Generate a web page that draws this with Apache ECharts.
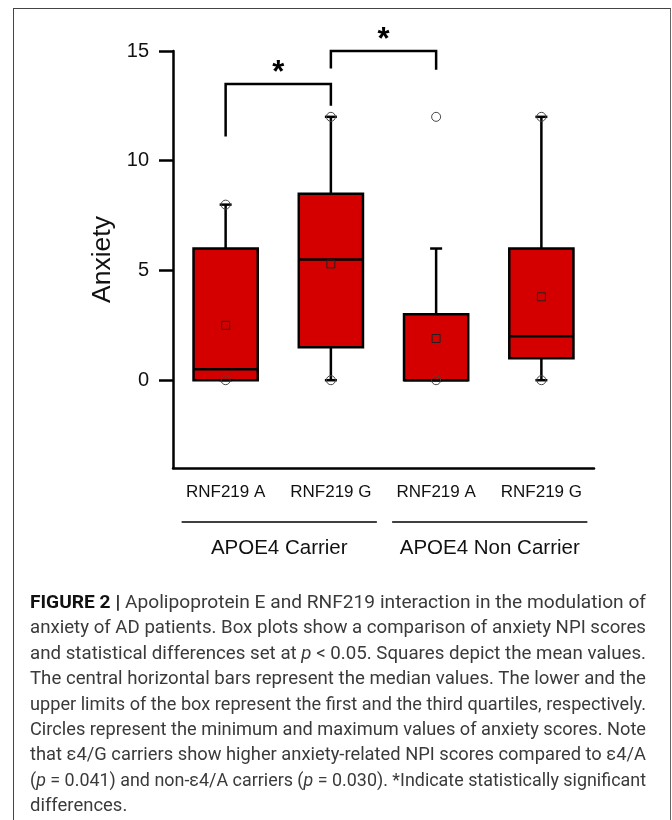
<!DOCTYPE html>
<html>
<head>
<meta charset="utf-8">
<script src="https://cdn.jsdelivr.net/npm/echarts@6/dist/echarts.min.js"></script>
<style>
  html, body { margin: 0; padding: 0; background: #fff; }
  #wrap { position: relative; width: 672px; height: 820px; overflow: hidden; background: #fff; }
  #chart { position: absolute; left: 0; top: 0; width: 672px; height: 820px; }
  #frame { position: absolute; left: 13px; top: 8px; width: 656px; height: 900px;
           border-left: 1px solid #444; border-top: 1px solid #444; border-right: 1px solid #666; }
  #caption { position: absolute; left: 30px; top: 590px; width: 616px;
             font-family: 'Roboto', 'Liberation Sans', sans-serif;
             font-size: 18.5px; line-height: 25.4px; color: #3a3a3a; }
  #caption .ln { display: block; height: 25.4px; white-space: nowrap; }
  #caption .ln span.t { display: inline-block; white-space: nowrap; transform-origin: 0 50%; }
  #caption b { color: #111; }
</style>
</head>
<body>
<div id="wrap">
  <div id="chart"></div>
  <div id="frame"></div>
  <div id="caption">
    <div class="ln"><span class="t"><b>FIGURE 2 |</b> Apolipoprotein E and RNF219 interaction in the modulation of</span></div>
    <div class="ln"><span class="t">anxiety of AD patients. Box plots show a comparison of anxiety NPI scores</span></div>
    <div class="ln"><span class="t">and statistical differences set at <i>p</i> &lt; 0.05. Squares depict the mean values.</span></div>
    <div class="ln"><span class="t">The central horizontal bars represent the median values. The lower and the</span></div>
    <div class="ln"><span class="t">upper limits of the box represent the first and the third quartiles, respectively.</span></div>
    <div class="ln"><span class="t">Circles represent the minimum and maximum values of anxiety scores. Note</span></div>
    <div class="ln"><span class="t">that ε4/G carriers show higher anxiety-related NPI scores compared to ε4/A</span></div>
    <div class="ln"><span class="t">(<i>p</i> = 0.041) and non-ε4/A carriers (<i>p</i> = 0.030). *Indicate statistically significant</span></div>
    <div class="ln last"><span class="t">differences.</span></div>
  </div>
</div>
<script>
// ---------- data ----------
const categories  = ['RNF219 A', 'RNF219 G', 'RNF219 A', 'RNF219 G'];
const whiskerLow  = [0, 0, 0, 0];
const q1          = [0, 1.5, 0, 1];
const median      = [0.5, 5.5, 0, 2];
const q3          = [6, 8.5, 3, 6];
const whiskerHigh = [8, 12, 6, 12];
const means       = [2.5, 5.3, 1.9, 3.8];
const minValues   = [0, 0, 0, 0];
const maxValues   = [8, 12, 12, 12];
const yTicks      = [0, 5, 10, 15];
const groupNames  = ['APOE4 Carrier', 'APOE4 Non Carrier'];
const groupFirst  = [0, 2];
const groupLast   = [1, 3];
// significance brackets: from category, to category, top value, left leg end, right leg end, star value
const bracketFrom  = [0, 1];
const bracketTo    = [1, 2];
const bracketTop   = [13.5, 15];
const bracketLeft  = [11.1, 14.2];
const bracketRight = [12.5, 14.15];
const starValue    = [14.3, 15.8];

// ---------- style / layout ----------
const FONT = "'Liberation Sans', Arial, sans-serif";
const BOX_RATIO = 0.61;
const LW = 2.5;
const CAP_HALF = 6;
const CIRCLE_R = 4.5;
const MEAN_HALF = 4;
const STAR_SIZE = 31;

const chart = echarts.init(document.getElementById('chart'), null, { renderer: 'canvas' });

const boxData = categories.map((c, i) => [i, whiskerLow[i], q1[i], median[i], q3[i], whiskerHigh[i], means[i], minValues[i], maxValues[i]]);
const bracketData = bracketFrom.map((f, i) => [f, bracketTo[i], bracketTop[i], bracketLeft[i], bracketRight[i], starValue[i]]);

function renderBox(params, api) {
  const i = api.value(0);
  const x = api.coord([i, 0])[0];
  const bw = api.size([1, 0])[0] * BOX_RATIO;
  const y = v => api.coord([i, v])[1];
  const wl = y(api.value(1)), yq1 = y(api.value(2)), ymed = y(api.value(3)),
        yq3 = y(api.value(4)), wh = y(api.value(5)), ymean = y(api.value(6)),
        ymin = y(api.value(7)), ymax = y(api.value(8));
  const black = { stroke: '#000', lineWidth: LW, fill: null };
  const children = [
    { type: 'line', shape: { x1: x, y1: yq3, x2: x, y2: wh }, style: black },
    { type: 'line', shape: { x1: x, y1: yq1, x2: x, y2: wl }, style: black },
    { type: 'rect', shape: { x: x - bw / 2, y: yq3, width: bw, height: yq1 - yq3 },
      style: { fill: '#D40000', stroke: '#000', lineWidth: LW } },
    { type: 'line', shape: { x1: x - bw / 2, y1: ymed, x2: x + bw / 2, y2: ymed }, style: black },
    { type: 'line', shape: { x1: x - CAP_HALF, y1: wh, x2: x + CAP_HALF, y2: wh }, style: black },
    { type: 'line', shape: { x1: x - CAP_HALF, y1: wl, x2: x + CAP_HALF, y2: wl }, style: black },
    { type: 'circle', shape: { cx: x, cy: ymin, r: CIRCLE_R }, style: { fill: null, stroke: '#444', lineWidth: 1 } },
    { type: 'circle', shape: { cx: x, cy: ymax, r: CIRCLE_R }, style: { fill: null, stroke: '#444', lineWidth: 1 } },
    { type: 'rect', shape: { x: x - MEAN_HALF, y: ymean - MEAN_HALF, width: 2 * MEAN_HALF, height: 2 * MEAN_HALF },
      style: { fill: null, stroke: '#222', lineWidth: 1 } }
  ];
  return { type: 'group', children };
}

function renderBracket(params, api) {
  const a = api.value(0), b = api.value(1);
  const xa = api.coord([a, 0])[0], xb = api.coord([b, 0])[0];
  const yt = api.coord([a, api.value(2)])[1];
  const yl = api.coord([a, api.value(3)])[1];
  const yr = api.coord([b, api.value(4)])[1];
  const ys = api.coord([a, api.value(5)])[1];
  return {
    type: 'group',
    children: [
      { type: 'polyline', shape: { points: [[xa, yl], [xa, yt], [xb, yt], [xb, yr]] },
        style: { stroke: '#000', lineWidth: LW, fill: null } },
      { type: 'text', x: (xa + xb) / 2, y: ys + STAR_SIZE * 0.22,
        style: { text: '*', fontSize: STAR_SIZE, fontWeight: 'bold', fontFamily: FONT, fill: '#000',
                 align: 'center', verticalAlign: 'middle' } }
    ]
  };
}

const option = {
  backgroundColor: 'transparent',
  animation: false,
  textStyle: { fontFamily: FONT },
  grid: { left: 173, right: 78, top: 51, bottom: 352, containLabel: false },
  xAxis: {
    type: 'category',
    data: categories,
    boundaryGap: true,
    axisLine: { show: true, onZero: false, lineStyle: { color: '#000', width: LW } },
    axisTick: { show: false },
    axisLabel: { fontSize: 17, color: '#111', margin: 16, fontFamily: FONT, interval: 0 },
    splitLine: { show: false }
  },
  yAxis: {
    type: 'value',
    min: -4,
    max: 15,
    name: 'Anxiety',
    nameLocation: 'middle',
    nameGap: 52,
    nameTextStyle: { fontSize: 26.5, color: '#111', fontFamily: FONT },
    axisLine: { show: true, onZero: false, lineStyle: { color: '#000', width: LW } },
    axisTick: { show: true, length: 14, customValues: yTicks, lineStyle: { color: '#000', width: LW } },
    axisLabel: { customValues: yTicks, fontSize: 20, color: '#111', margin: 24, fontFamily: FONT },
    splitLine: { show: false }
  },
  series: [
    { type: 'custom', name: 'boxes', data: boxData, renderItem: renderBox, clip: false,
      encode: { x: 0, y: [2, 4] }, z: 3 },
    { type: 'custom', name: 'brackets', data: bracketData, renderItem: renderBracket, clip: false,
      encode: { x: 0, y: 2 }, z: 4 }
  ]
};

chart.setOption(option);

// group annotations beneath the category labels, placed from the axis scale
const axisBottom = chart.convertToPixel({ yAxisIndex: 0 }, -4);
const graphics = [];
groupNames.forEach((name, g) => {
  const x1 = chart.convertToPixel({ xAxisIndex: 0 }, groupFirst[g]) - 44;
  const x2 = chart.convertToPixel({ xAxisIndex: 0 }, groupLast[g]) + 46;
  graphics.push({ type: 'line', shape: { x1, y1: axisBottom + 54, x2, y2: axisBottom + 54 },
                  style: { stroke: '#000', lineWidth: 1.6 } });
  graphics.push({ type: 'text', x: (x1 + x2) / 2, y: axisBottom + 80,
                  style: { text: name, fontSize: 20.5, fontFamily: FONT, fill: '#111',
                           align: 'center', verticalAlign: 'middle' } });
});
chart.setOption({ graphic: graphics });

// condense caption lines (the original uses a condensed face) so each full line spans the text block
(function fitCaption() {
  const target = 616;
  const lines = Array.from(document.querySelectorAll('#caption .ln'));
  const factors = [];
  lines.forEach(ln => {
    if (ln.classList.contains('last')) return;
    const t = ln.querySelector('.t');
    const w = t.getBoundingClientRect().width;
    const f = target / w;
    factors.push(f);
    t.style.transform = 'scaleX(' + f + ')';
  });
  const avg = factors.reduce((a, b) => a + b, 0) / factors.length;
  lines.filter(l => l.classList.contains('last')).forEach(ln => {
    ln.querySelector('.t').style.transform = 'scaleX(' + avg + ')';
  });
})();
</script>
</body>
</html>
